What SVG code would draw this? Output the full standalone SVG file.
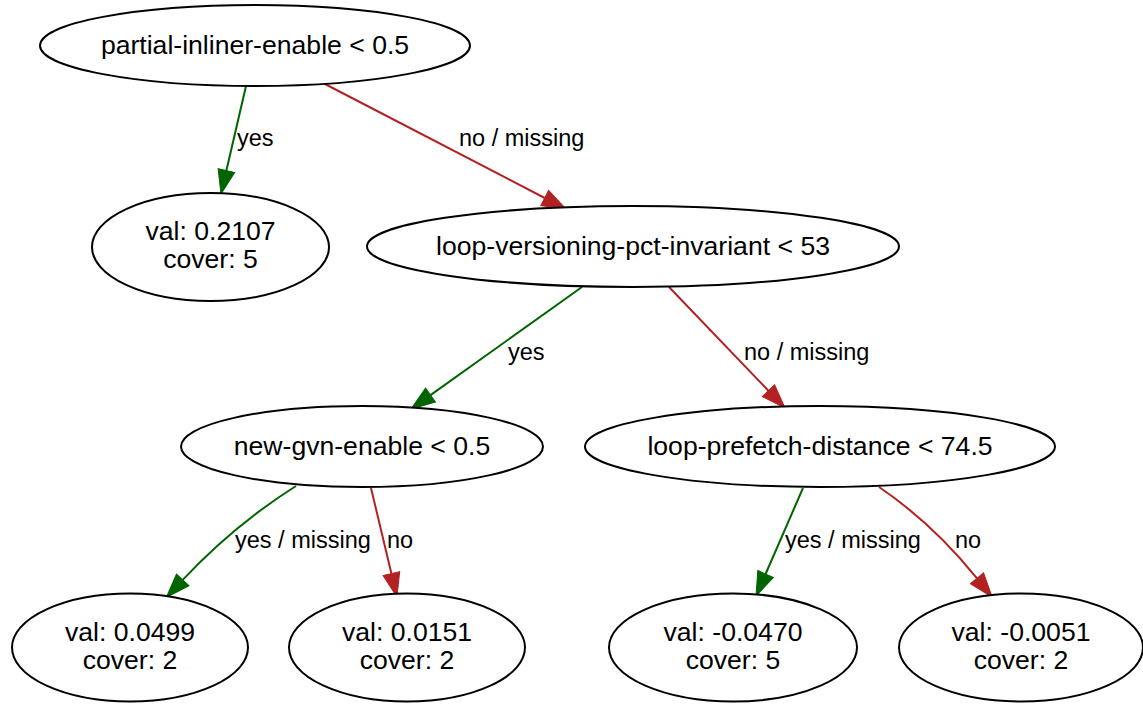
<svg xmlns="http://www.w3.org/2000/svg" width="1143" height="704" viewBox="0 0 1143 704">
  <style>
    .node ellipse { fill: #ffffff; stroke: #000000; stroke-width: 2; }
    .node text { font-family: "Liberation Sans", Arial, sans-serif; font-size: 26.6px; fill: #000000; text-anchor: middle; }
    .edge path { fill: none; stroke-width: 2; }
    .edge.yes path { stroke: #006400; }
    .edge.no path { stroke: #b22222; }
    .edge text { font-family: "Liberation Sans", Arial, sans-serif; font-size: 23.5px; fill: #000000; }
  </style>
  <defs>
    <marker id="arrow-yes" markerUnits="userSpaceOnUse" markerWidth="26" markerHeight="20" refX="0" refY="0" viewBox="0 -10 26 20" orient="auto" overflow="visible">
      <path d="M0,-8.5 L24,0 L0,8.5 Z" fill="#006400" stroke="#006400" stroke-width="1"/>
    </marker>
    <marker id="arrow-no" markerUnits="userSpaceOnUse" markerWidth="26" markerHeight="20" refX="0" refY="0" viewBox="0 -10 26 20" orient="auto" overflow="visible">
      <path d="M0,-8.5 L24,0 L0,8.5 Z" fill="#b22222" stroke="#b22222" stroke-width="1"/>
    </marker>
  </defs>

  <rect width="1143" height="704" fill="#ffffff"/>

  <!-- connectors -->
  <g id="edges">
    <g class="edge yes"><path d="M246,86 L226.4,170.6" marker-end="url(#arrow-yes)"/><text x="237" y="146">yes</text></g>
    <g class="edge no"><path d="M325,84 L544.7,198" marker-end="url(#arrow-no)"/><text x="459" y="146">no / missing</text></g>
    <g class="edge yes"><path d="M582,287 L430.5,395.1" marker-end="url(#arrow-yes)"/><text x="508" y="360">yes</text></g>
    <g class="edge no"><path d="M669,287 L768.4,390.7" marker-end="url(#arrow-no)"/><text x="744" y="360">no / missing</text></g>
    <g class="edge yes"><path d="M296,486 C258,510 220,540 182.7,579.9" marker-end="url(#arrow-yes)"/><text x="235" y="548">yes / missing</text></g>
    <g class="edge no"><path d="M371,488 L391.4,573.6" marker-end="url(#arrow-no)"/><text x="387" y="548">no</text></g>
    <g class="edge yes"><path d="M803,488 L765.6,574" marker-end="url(#arrow-yes)"/><text x="785" y="548">yes / missing</text></g>
    <g class="edge no"><path d="M879,487 C910,508 942,535 977,578.3" marker-end="url(#arrow-no)"/><text x="955" y="548">no</text></g>
  </g>

  <!-- split nodes -->
  <g id="node0" class="node"><ellipse cx="255" cy="45.5" rx="215" ry="40.5"/><text x="255" y="54">partial-inliner-enable &lt; 0.5</text></g>
  <g id="node2" class="node"><ellipse cx="633" cy="246.5" rx="266" ry="40.5"/><text x="633" y="255">loop-versioning-pct-invariant &lt; 53</text></g>
  <g id="node3" class="node"><ellipse cx="362" cy="446.5" rx="181" ry="40.5"/><text x="362" y="455">new-gvn-enable &lt; 0.5</text></g>
  <g id="node4" class="node"><ellipse cx="820" cy="446.5" rx="235" ry="40.5"/><text x="820" y="455">loop-prefetch-distance &lt; 74.5</text></g>

  <!-- leaf nodes -->
  <g id="node1" class="node"><ellipse cx="210.5" cy="247" rx="118.5" ry="54"/><text x="210.5" y="240">val: 0.2107</text><text x="210.5" y="268">cover: 5</text></g>
  <g id="node5" class="node"><ellipse cx="130" cy="647.5" rx="118" ry="54"/><text x="130" y="641">val: 0.0499</text><text x="130" y="669">cover: 2</text></g>
  <g id="node6" class="node"><ellipse cx="407" cy="647.5" rx="118" ry="54"/><text x="407" y="641">val: 0.0151</text><text x="407" y="669">cover: 2</text></g>
  <g id="node7" class="node"><ellipse cx="733" cy="647.5" rx="124" ry="54"/><text x="733" y="641">val: -0.0470</text><text x="733" y="669">cover: 5</text></g>
  <g id="node8" class="node"><ellipse cx="1021" cy="647.5" rx="122" ry="54"/><text x="1021" y="641">val: -0.0051</text><text x="1021" y="669">cover: 2</text></g>
</svg>
